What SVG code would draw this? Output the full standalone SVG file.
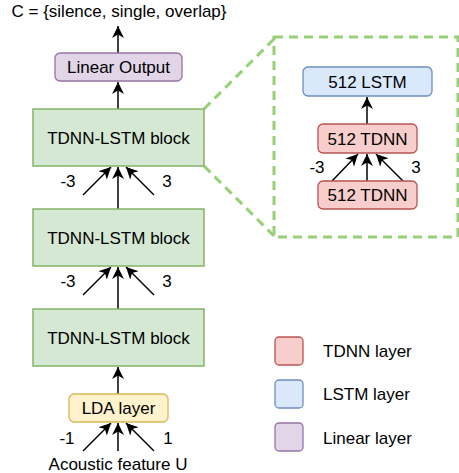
<svg xmlns="http://www.w3.org/2000/svg" width="459" height="473" viewBox="0 0 459 473">
<style>
text{font-family:"Liberation Sans",Arial,sans-serif;font-size:17px;fill:#000}
.c{text-anchor:middle}
.g{fill:#d5e8d4;stroke:#82b366;stroke-width:1.5}
.r{fill:#f8cecc;stroke:#b85450;stroke-width:1.3}
.b{fill:#dae8fc;stroke:#6c8ebf;stroke-width:1.3}
.p{fill:#e1d5e7;stroke:#9673a6;stroke-width:1.3}
.y{fill:#fff2cc;stroke:#d6b656;stroke-width:1.3}
.a{stroke:#000;stroke-width:1.5;fill:none;marker-end:url(#ah)}
.d{stroke:#97d077;stroke-width:3;fill:none;stroke-dasharray:9 6}
</style>
<defs>
<marker id="ah" markerUnits="userSpaceOnUse" markerWidth="14" markerHeight="14" viewBox="0 0 14 14" refX="12" refY="7" orient="auto">
<path d="M0,1 L12,7 L0,13 L3.5,7 Z" fill="#000"/>
</marker>
</defs>
<g id="connectors">
<line class="a" x1="118" y1="53" x2="118" y2="26"/>
<line class="a" x1="118" y1="109" x2="118" y2="82"/>
<line class="a" x1="118" y1="209" x2="118" y2="167"/>
<line class="a" x1="83" y1="195" x2="111" y2="167"/>
<line class="a" x1="154" y1="195" x2="126" y2="167"/>
<line class="a" x1="118" y1="309" x2="118" y2="267"/>
<line class="a" x1="83" y1="295" x2="111" y2="267"/>
<line class="a" x1="154" y1="295" x2="126" y2="267"/>
<line class="a" x1="118" y1="394" x2="118" y2="367"/>
<line class="a" x1="118" y1="451" x2="118" y2="423"/>
<line class="a" x1="83" y1="451" x2="111" y2="423"/>
<line class="a" x1="154" y1="451" x2="126" y2="423"/>
<line class="a" x1="367" y1="124" x2="367" y2="97"/>
<line class="a" x1="367" y1="181" x2="367" y2="154"/>
<line class="a" x1="332" y1="181" x2="358" y2="154"/>
<line class="a" x1="403" y1="181" x2="376" y2="154"/>
<line class="d" x1="204" y1="109" x2="274" y2="39"/>
<line class="d" x1="204" y1="166" x2="274" y2="236"/>
</g>
<g id="labels">
<text class="c" x="119" y="17">C = {silence, single, overlap}</text>
<text class="c" x="68" y="187">-3</text>
<text class="c" x="167" y="187">3</text>
<text class="c" x="68" y="287">-3</text>
<text class="c" x="167" y="287">3</text>
<text class="c" x="67" y="444">-1</text>
<text class="c" x="168" y="444">1</text>
<text class="c" x="118" y="470">Acoustic feature U</text>
<text class="c" x="317" y="173">-3</text>
<text class="c" x="416" y="173">3</text>
</g>
<g id="linear-output"><rect class="p" x="55" y="53" width="127" height="28" rx="5"/><text class="c" x="118.5" y="73">Linear Output</text></g>
<g id="block1"><rect class="g" x="33" y="109" width="171" height="57"/><text class="c" x="118.5" y="144">TDNN-LSTM block</text></g>
<g id="block2"><rect class="g" x="33" y="209" width="171" height="57"/><text class="c" x="118.5" y="244">TDNN-LSTM block</text></g>
<g id="block3"><rect class="g" x="33" y="309" width="171" height="57"/><text class="c" x="118.5" y="344">TDNN-LSTM block</text></g>
<g id="lda"><rect class="y" x="69" y="394" width="99" height="28" rx="5"/><text class="c" x="118.5" y="414">LDA layer</text></g>
<g id="zoom-box"><rect class="d" x="274" y="37" width="184" height="200"/></g>
<g id="lstm"><rect class="b" x="303" y="67" width="129" height="29" rx="5"/><text class="c" x="367.5" y="87.5">512 LSTM</text></g>
<g id="tdnn-upper"><rect class="r" x="318" y="124" width="99" height="29" rx="5"/><text class="c" x="367.5" y="144.5">512 TDNN</text></g>
<g id="tdnn-lower"><rect class="r" x="318" y="181" width="99" height="28" rx="5"/><text class="c" x="367.5" y="201">512 TDNN</text></g>
<g id="legend">
<rect class="r" x="275" y="337" width="28" height="28" rx="4"/><text x="323" y="357">TDNN layer</text>
<rect class="b" x="275" y="380" width="28" height="28" rx="4"/><text x="323" y="400">LSTM layer</text>
<rect class="p" x="275" y="423" width="28" height="28" rx="4"/><text x="323" y="444">Linear layer</text>
</g>
</svg>
